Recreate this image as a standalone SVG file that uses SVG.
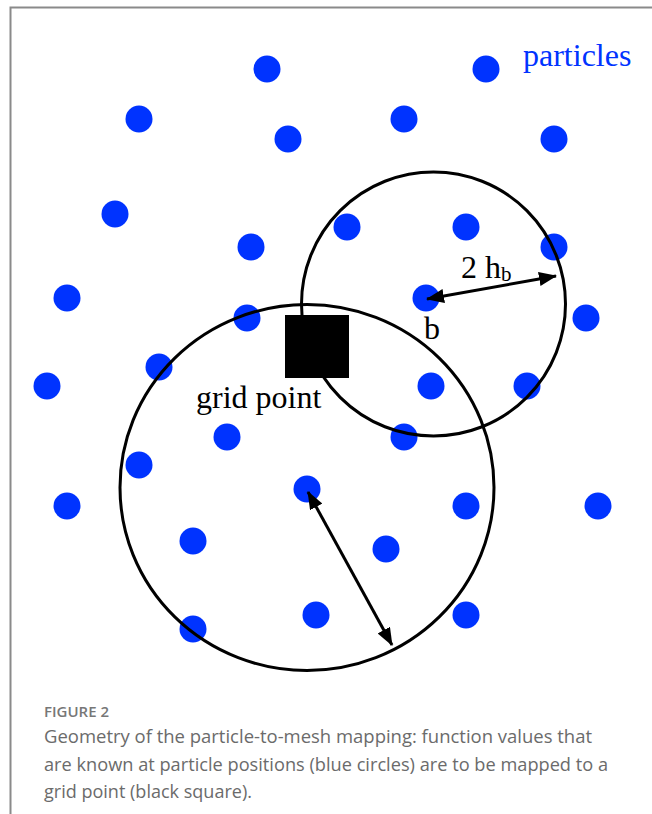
<svg xmlns="http://www.w3.org/2000/svg" width="652" height="814" viewBox="0 0 652 814">
  <style>
    .p { fill: #0033ff; }
    .ring { fill: none; stroke: #000; stroke-width: 3; }
    .arr { stroke: #000; stroke-width: 3; marker-start: url(#ah); marker-end: url(#ah); }
    .lbl { font-family: "Liberation Serif", "Times New Roman", serif; font-size: 32px; fill: #000; }
    .cap { font-family: "Open Sans", "Liberation Sans", sans-serif; font-size: 18px; fill: #6b6b6b; }
  </style>
  <defs>
    <marker id="ah" viewBox="0 0 18 14" refX="17" refY="7" markerWidth="18" markerHeight="14" markerUnits="userSpaceOnUse" orient="auto-start-reverse">
      <path d="M0,0 L18,7 L0,14 z" fill="#000"/>
    </marker>
  </defs>
  <rect width="652" height="814" fill="#fff"/>
  <path d="M10.5,814 V7.5 H652" fill="none" stroke="#8a8a8a" stroke-width="2"/>

  <g id="particles">
    <circle class="p" cx="267" cy="69" r="13.5"/>
    <circle class="p" cx="486" cy="69" r="13.5"/>
    <circle class="p" cx="139" cy="119" r="13.5"/>
    <circle class="p" cx="404" cy="119" r="13.5"/>
    <circle class="p" cx="288" cy="139" r="13.5"/>
    <circle class="p" cx="554" cy="139" r="13.5"/>
    <circle class="p" cx="115" cy="214" r="13.5"/>
    <circle class="p" cx="347" cy="227" r="13.5"/>
    <circle class="p" cx="466" cy="227" r="13.5"/>
    <circle class="p" cx="251" cy="247" r="13.5"/>
    <circle class="p" cx="554" cy="247" r="13.5"/>
    <circle class="p" cx="67" cy="298" r="13.5"/>
    <circle class="p" cx="426" cy="298" r="13.5"/>
    <circle class="p" cx="247" cy="318" r="13.5"/>
    <circle class="p" cx="586" cy="318" r="13.5"/>
    <circle class="p" cx="159" cy="367" r="13.5"/>
    <circle class="p" cx="47" cy="386" r="13.5"/>
    <circle class="p" cx="431" cy="386" r="13.5"/>
    <circle class="p" cx="527" cy="386" r="13.5"/>
    <circle class="p" cx="227" cy="437" r="13.5"/>
    <circle class="p" cx="404" cy="437" r="13.5"/>
    <circle class="p" cx="139" cy="465" r="13.5"/>
    <circle class="p" cx="307" cy="489" r="13.5"/>
    <circle class="p" cx="67" cy="506" r="13.5"/>
    <circle class="p" cx="466" cy="506" r="13.5"/>
    <circle class="p" cx="598" cy="506" r="13.5"/>
    <circle class="p" cx="193" cy="541" r="13.5"/>
    <circle class="p" cx="386" cy="549" r="13.5"/>
    <circle class="p" cx="316" cy="615" r="13.5"/>
    <circle class="p" cx="466" cy="615" r="13.5"/>
    <circle class="p" cx="193" cy="629" r="13.5"/>
  </g>

  <g id="support-circles">
    <circle class="ring" cx="433.5" cy="304" r="132"/>
    <ellipse class="ring" cx="307" cy="487.5" rx="187" ry="183"/>
  </g>

  <g id="grid-point">
    <rect x="285" y="315" width="64" height="63" fill="#000"/>
  </g>

  <g id="connectors">
    <line class="arr" x1="427" y1="299" x2="556" y2="276"/>
    <line class="arr" x1="308" y1="492" x2="392" y2="645"/>
  </g>

  <g id="labels">
    <text x="523" y="66" class="lbl" style="fill:#0033ff">particles</text>
    <text x="461" y="278" class="lbl">2 h<tspan font-size="21" dy="3">b</tspan></text>
    <text x="424" y="339" class="lbl">b</text>
    <text x="196" y="408" class="lbl">grid point</text>
  </g>

  <g id="caption">
    <text x="44" y="717" class="cap" style="font-size:15px;font-weight:600;fill:#777">FIGURE 2</text>
    <text x="44" y="743" class="cap" textLength="548" lengthAdjust="spacingAndGlyphs">Geometry of the particle-to-mesh mapping: function values that</text>
    <text x="44" y="771" class="cap" textLength="564" lengthAdjust="spacingAndGlyphs">are known at particle positions (blue circles) are to be mapped to a</text>
    <text x="44" y="798" class="cap" textLength="208" lengthAdjust="spacingAndGlyphs">grid point (black square).</text>
  </g>
</svg>
